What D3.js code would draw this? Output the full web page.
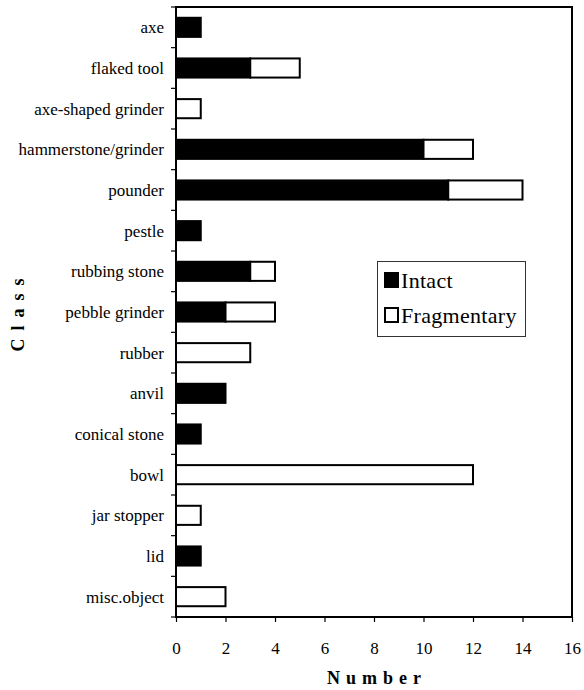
<!DOCTYPE html>
<html><head><meta charset="utf-8">
<script src="https://cdn.jsdelivr.net/npm/d3@7"></script>
<style>body{margin:0;background:#fff}svg{display:block}</style>
</head><body>
<svg id="c" width="584" height="690"></svg>
<script>
const categories = ["axe","flaked tool","axe-shaped grinder","hammerstone/grinder","pounder","pestle","rubbing stone","pebble grinder","rubber","anvil","conical stone","bowl","jar stopper","lid","misc.object"];
const intact      = [1,3,0,10,11,1,3,2,0,2,1,0,0,1,0];
const fragmentary = [0,2,1,2,3,0,1,2,3,0,0,12,1,0,2];
const xTicks = [0,2,4,6,8,10,12,14,16];
const seriesNames = ["Intact","Fragmentary"];

const FF = "'Liberation Serif', 'Times New Roman', serif";
const svg = d3.select("#c");
const L = 176, R = 572, T = 7, B = 617;
const x = d3.scaleLinear().domain([0,16]).range([L,R]);
const y = d3.scaleBand().domain(categories).range([T,B]).paddingInner(0.53).paddingOuter(0.265);
const yb = d3.scaleBand().domain(categories).range([T,B]);

const rows = categories.map((c,i)=>({c, a:intact[i], b:fragmentary[i]}));
const g = svg.append("g");
g.selectAll("rect.i").data(rows.filter(d=>d.a>0)).join("rect")
 .attr("x",x(0)).attr("y",d=>y(d.c)).attr("width",d=>x(d.a)-x(0)).attr("height",y.bandwidth())
 .attr("fill","#000").attr("stroke","#000").attr("stroke-width",2);
g.selectAll("rect.f").data(rows.filter(d=>d.b>0)).join("rect")
 .attr("x",d=>x(d.a)).attr("y",d=>y(d.c)).attr("width",d=>x(d.a+d.b)-x(d.a)).attr("height",y.bandwidth())
 .attr("fill","#fff").attr("stroke","#000").attr("stroke-width",2);

svg.append("rect").attr("x",L).attr("y",T).attr("width",R-L).attr("height",B-T)
 .attr("fill","none").attr("stroke","#000").attr("stroke-width",2);

const bounds = categories.map(c=>yb(c)).concat([B]);
svg.selectAll("line.yt").data(bounds).join("line")
 .attr("x1",L-5).attr("x2",L).attr("y1",d=>d).attr("y2",d=>d).attr("stroke","#000").attr("stroke-width",1.2);
svg.selectAll("text.yl").data(categories).join("text")
 .attr("x",L-12).attr("y",d=>yb(d)+yb.bandwidth()/2).attr("dy","0.35em")
 .style("font-family",FF).attr("text-anchor","end").attr("font-size",17).text(d=>d);

const xa = svg.append("g").attr("transform",`translate(0,${B})`)
 .call(d3.axisBottom(x).tickValues(xTicks).tickSize(5).tickSizeOuter(0).tickPadding(20));
xa.select(".domain").remove();
xa.selectAll("line").attr("stroke-width",1.2);
xa.selectAll("text").attr("font-size",17).style("font-family",FF);

svg.append("text").attr("x",(L+R)/2+3).attr("y",684).attr("text-anchor","middle").style("font-family",FF)
 .attr("font-size",18).attr("font-weight","bold").attr("letter-spacing",6).text("Number");
svg.append("text").attr("transform",`translate(24,${311}) rotate(-90)`).attr("text-anchor","middle").style("font-family",FF)
 .attr("font-size",18).attr("font-weight","bold").attr("letter-spacing",8).text("Class");

const lg = svg.append("g");
lg.append("rect").attr("x",377.5).attr("y",261.5).attr("width",148).attr("height",75)
 .attr("fill","#fff").attr("stroke","#333").attr("stroke-width",1);
seriesNames.forEach((s,i)=>{
  const yy = 273 + i*35;
  lg.append("rect").attr("x",385).attr("y",yy).attr("width",13).attr("height",14)
    .attr("fill", i===0?"#000":"#fff").attr("stroke","#000").attr("stroke-width",2);
  lg.append("text").attr("x",401).attr("y",yy+15).style("font-family",FF).attr("font-size",22).attr("letter-spacing",0.3).text(s);
});
</script>
</body></html>
